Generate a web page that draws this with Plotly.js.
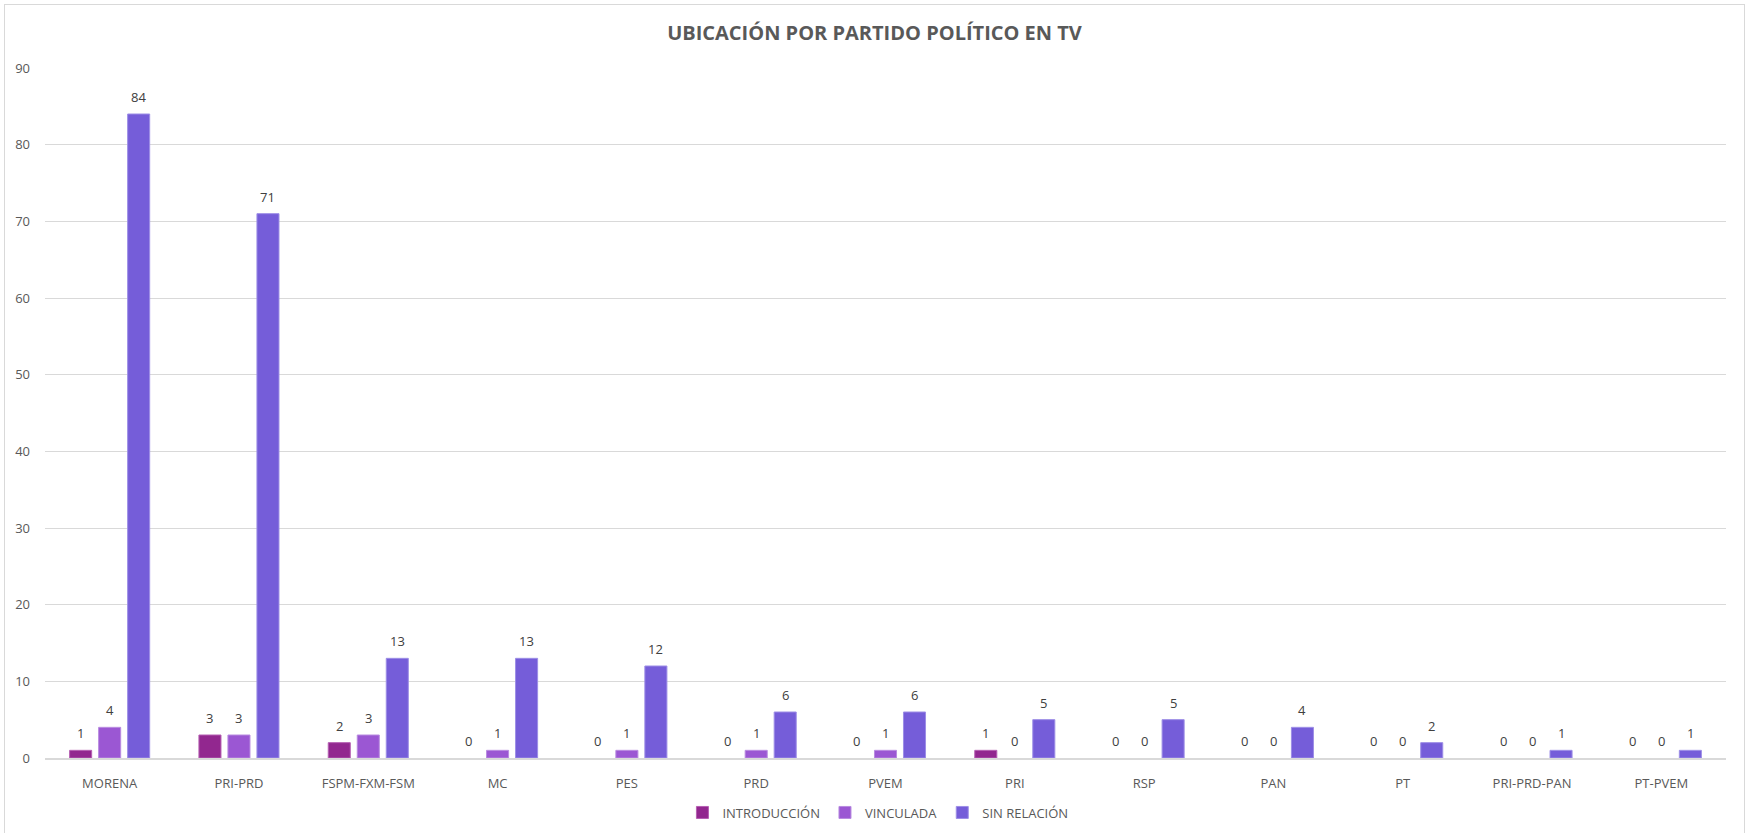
<!DOCTYPE html>
<html>
<head>
<meta charset="utf-8">
<script src="https://cdn.plot.ly/plotly-3.0.1.min.js"></script>
<style>
  html, body { margin: 0; padding: 0; background: #ffffff; }
  #wrap { position: relative; width: 1749px; height: 833px; }
  #chart { width: 1749px; height: 833px; }
  #frame { position: absolute; left: 4px; top: 4px; width: 1739px; height: 832px; border: 1px solid #d9d9d9; pointer-events: none; }
</style>
</head>
<body>
<div id="wrap">
  <div id="chart"></div>
  <div id="frame"></div>
</div>
<script>
const categories = ["MORENA", "PRI-PRD", "FSPM-FXM-FSM", "MC", "PES", "PRD", "PVEM", "PRI", "RSP", "PAN", "PT", "PRI-PRD-PAN", "PT-PVEM"];
const introduccion = [1, 3, 2, 0, 0, 0, 0, 1, 0, 0, 0, 0, 0];
const vinculada = [4, 3, 3, 1, 1, 1, 1, 0, 0, 0, 0, 0, 0];
const sinRelacion = [84, 71, 13, 13, 12, 6, 6, 5, 5, 4, 2, 1, 1];
const seriesNames = ["INTRODUCCIÓN", "VINCULADA", "SIN RELACIÓN"];
const yTicks = [0, 10, 20, 30, 40, 50, 60, 70, 80, 90];

const colors = ["#92278f", "#9b57d3", "#755dd9"];
const edgeColors = ["#b55fb2", "#b88be0", "#9d8ee6"];
const seriesData = [introduccion, vinculada, sinRelacion];

const W = 1749, H = 833;
const margin = { l: 45, r: 23, t: 68, b: 75, pad: 0, autoexpand: false };
const bargap = 0.327;
const plotW = W - margin.l - margin.r;
const slotPx = (plotW / categories.length) * (1 - bargap) / seriesData.length;

const traces = seriesData.map((vals, i) => ({
  type: "bar",
  name: seriesNames[i],
  x: categories,
  y: vals,
  marker: {
    color: colors[i],
    line: { color: edgeColors[i], width: vals.map(v => (v > 0 ? 1 : 0)) }
  },
  hoverinfo: "x+y+name"
}));

const annotations = [];
seriesData.forEach((vals, i) => {
  vals.forEach((v, j) => {
    annotations.push({
      x: categories[j],
      y: v,
      xref: "x",
      yref: "y",
      text: String(v),
      showarrow: false,
      xanchor: "center",
      yanchor: "middle",
      xshift: (i - (seriesData.length - 1) / 2) * slotPx,
      yshift: 17,
      font: { family: "Open Sans, sans-serif", size: 13, color: "#404040" }
    });
  });
});

const layout = {
  width: W,
  height: H,
  paper_bgcolor: "rgba(0,0,0,0)",
  plot_bgcolor: "#ffffff",
  margin: margin,
  font: { family: "Open Sans, sans-serif", size: 13, color: "#595959" },
  title: {
    text: "<b>UBICACIÓN POR PARTIDO POLÍTICO EN TV</b>",
    font: { family: "Open Sans, sans-serif", size: 20, color: "#595959" },
    x: 0.5, xref: "container", xanchor: "center",
    y: 0.96, yref: "container", yanchor: "middle"
  },
  barmode: "group",
  bargap: bargap,
  bargroupgap: 0.24,
  showlegend: true,
  legend: {
    orientation: "h",
    x: 0.4955, xanchor: "center",
    y: -0.079, yanchor: "middle",
    font: { family: "Open Sans, sans-serif", size: 13, color: "#595959" },
    itemwidth: 30,
    traceorder: "normal"
  },
  annotations: annotations,
  xaxis: {
    type: "category",
    tickfont: { family: "Open Sans, sans-serif", size: 13, color: "#595959" },
    showgrid: false,
    showline: true,
    linecolor: "#d9d9d9",
    linewidth: 1.5,
    ticks: "",
    ticklabelstandoff: 13,
    fixedrange: true
  },
  yaxis: {
    range: [0, 90],
    tickvals: yTicks,
    ticktext: yTicks.map(String),
    tickfont: { family: "Open Sans, sans-serif", size: 13, color: "#595959" },
    showgrid: true,
    gridcolor: "#d9d9d9",
    gridwidth: 1,
    zeroline: false,
    showline: false,
    ticks: "",
    ticklabelstandoff: 14,
    fixedrange: true
  }
};

Plotly.newPlot("chart", traces, layout, { displayModeBar: false, responsive: false });
</script>
</body>
</html>
